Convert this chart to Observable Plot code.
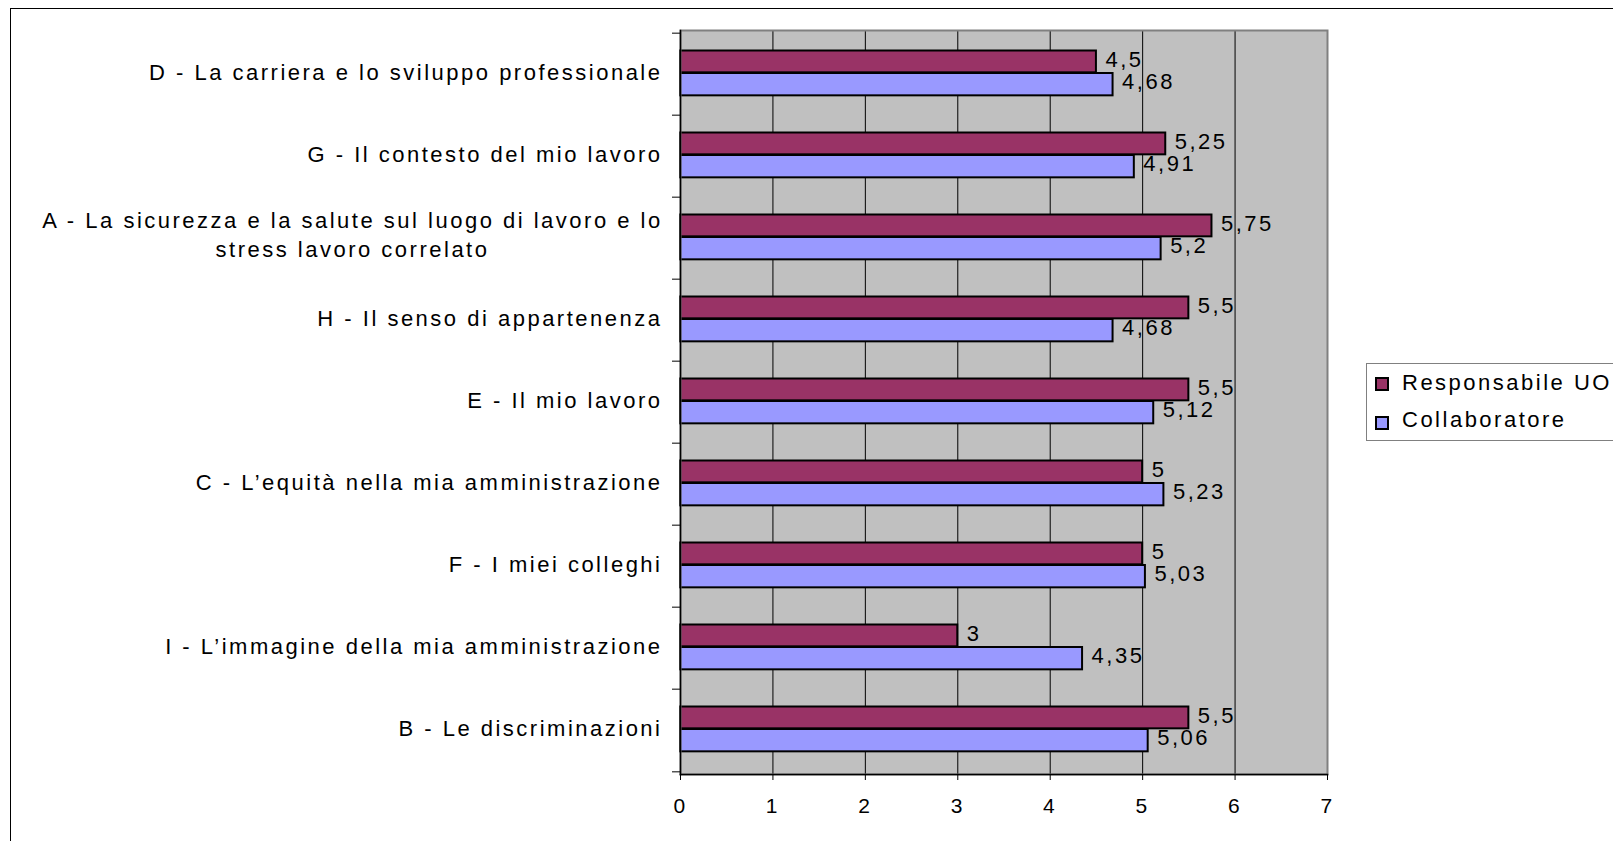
<!DOCTYPE html>
<html><head><meta charset="utf-8">
<script src="https://cdn.jsdelivr.net/npm/d3@7"></script>
<script src="https://cdn.jsdelivr.net/npm/@observablehq/plot@0.6"></script>
<style>
body{margin:0;background:#fff;overflow:hidden;}
#wrap{position:relative;width:1613px;height:841px;overflow:hidden;font-family:"Liberation Sans",Arial,sans-serif;background:#fff;}
#border{position:absolute;left:10px;top:8px;width:1700px;height:900px;border:1px solid #000;}
#chart{position:absolute;left:0;top:0;}
#legend{position:absolute;left:1366px;top:363px;width:300px;height:76px;border:1px solid #808080;background:#fff;}
#legend .sw{position:absolute;left:8px;width:10px;height:10px;border:2px solid #000;}
#legend .lt{position:absolute;left:35px;font-size:22px;line-height:22px;letter-spacing:2.5px;color:#000;white-space:nowrap;}
</style></head>
<body>
<div id="wrap"><div id="border"></div><div id="chart"></div><div id="legend"></div></div>
<script>
const categories = [
  "D - La carriera e lo sviluppo professionale",
  "G - Il contesto del mio lavoro",
  "A - La sicurezza e la salute sul luogo di lavoro e lo\nstress lavoro correlato",
  "H - Il senso di appartenenza",
  "E - Il mio lavoro",
  "C - L’equità nella mia amministrazione",
  "F - I miei colleghi",
  "I - L’immagine della mia amministrazione",
  "B - Le discriminazioni"
];
const responsabile = [4.5, 5.25, 5.75, 5.5, 5.5, 5, 5, 3, 5.5];
const collaboratore = [4.68, 4.91, 5.2, 4.68, 5.12, 5.23, 5.03, 4.35, 5.06];
const seriesNames = ["Responsabile UO", "Collaboratore"];
const seriesColors = ["#993366", "#9999ff"];
const xTicks = [0, 1, 2, 3, 4, 5, 6, 7];
const gridTicks = [1, 2, 3, 4, 5, 6];

const rows = categories.flatMap((c, i) => [
  {category: c, series: seriesNames[0], value: responsabile[i]},
  {category: c, series: seriesNames[1], value: collaboratore[i]}
]);
const fmt = v => String(v).replace(".", ",");

const W = 1613, H = 841, mT = 30, mB = 67, mL = 680, mR = 286;
const bw = (H - mT - mB) / categories.length;
const multi = categories.filter(c => c.includes("\n"));
const single = categories.filter(c => !c.includes("\n"));
const rR = rows.filter(d => d.series === seriesNames[0]);
const rC = rows.filter(d => d.series === seriesNames[1]);

const chart = Plot.plot({
  width: W, height: H,
  marginTop: mT, marginBottom: mB, marginLeft: mL, marginRight: mR,
  x: {domain: [0, 7], axis: null},
  y: {domain: categories, padding: 0, axis: null},
  style: {fontFamily: "'Liberation Sans', Arial, sans-serif", fontSize: "22px", letterSpacing: "2.5px", color: "#000", background: "transparent", overflow: "visible"},
  marks: [
    Plot.frame({fill: "#c0c0c0"}),
    Plot.ruleX(gridTicks, {stroke: "#000", strokeWidth: 1}),
    Plot.barX(rR, {x: "value", y: "category", fill: seriesColors[0], stroke: "#000", strokeWidth: 2, insetTop: 17.5, insetBottom: bw - 40}),
    Plot.barX(rC, {x: "value", y: "category", fill: seriesColors[1], stroke: "#000", strokeWidth: 2, insetTop: 40, insetBottom: bw - 63}),
    Plot.text(rR, {x: "value", y: "category", text: d => fmt(d.value), textAnchor: "start", dx: 9, dy: -15, fill: "#000", fontSize: 22}),
    Plot.text(rC, {x: "value", y: "category", text: d => fmt(d.value), textAnchor: "start", dx: 9, dy: 7, fill: "#000", fontSize: 22}),
    Plot.frame({stroke: "#808080", strokeWidth: 2}),
    Plot.frame({anchor: "left", stroke: "#000", strokeWidth: 1.5}),
    Plot.frame({anchor: "bottom", stroke: "#000", strokeWidth: 1.5}),
    Plot.axisX(xTicks, {anchor: "bottom", tickSize: 6, tickPadding: 18, fontSize: 21, letterSpacing: 0, stroke: "#000", label: null}),
    Plot.axisY(categories, {anchor: "left", tickSize: 8, tickFormat: () => "", dy: -bw / 2, stroke: "#000", label: null}),
    Plot.axisY(categories.slice(-1), {anchor: "left", tickSize: 8, tickFormat: () => "", dy: bw / 2, stroke: "#000", label: null}),
    Plot.text(single, {y: d => d, text: d => d, frameAnchor: "left", textAnchor: "end", dx: -18, dy: -2, fill: "#000", fontSize: 22}),
    Plot.text(multi, {y: d => d, text: d => d, frameAnchor: "left", textAnchor: "middle", dx: -328, dy: -5, lineHeight: 1.3, fill: "#000", fontSize: 22})
  ]
});
document.getElementById("chart").appendChild(chart);

const legend = document.getElementById("legend");
const swTops = [13, 52], txtTops = [7.5, 44.5];
seriesNames.forEach((name, i) => {
  const sw = document.createElement("div");
  sw.className = "sw"; sw.style.top = swTops[i] + "px"; sw.style.background = seriesColors[i];
  legend.appendChild(sw);
  const t = document.createElement("div");
  t.className = "lt"; t.style.top = txtTops[i] + "px"; t.textContent = name;
  legend.appendChild(t);
});
</script>
</body></html>
